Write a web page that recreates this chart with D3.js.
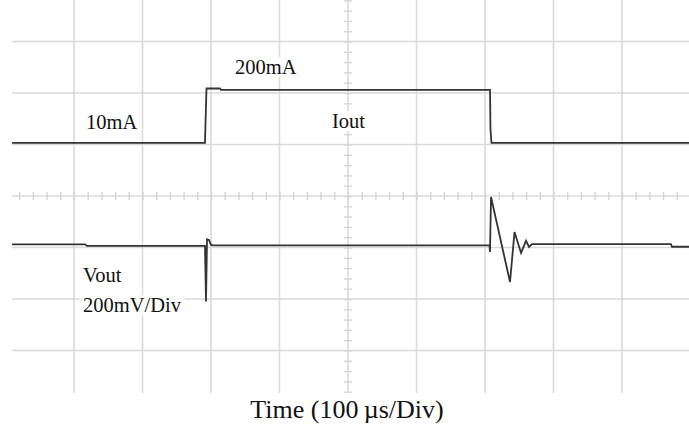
<!DOCTYPE html>
<html>
<head>
<meta charset="utf-8">
<script src="https://cdn.jsdelivr.net/npm/d3@7"></script>
<style>
  body { margin: 0; background: #fff; }
  text { font-family: "Liberation Serif", "Times New Roman", serif; fill: #111; }
</style>
</head>
<body>
<div id="chart"></div>
<script>
// time in us (100 us / div), 0 = left edge of the graticule
var iout_t = [9.5, 291.2, 293.4, 313.1, 314.6, 707.3, 708.0, 709.5, 997.8]
var iout_mA = [10, 10, 205, 205, 200, 200, 57, 10, 10]

var vout_t = [9.5, 116.1, 119.0, 291.2, 292.7, 294.2, 297.1, 300.0, 302.9,
  706.6, 707.3, 708.8, 736.5, 743.1, 752.6, 759.9, 764.2, 768.6, 971.5, 973.0, 997.8]
var vout_mV = [2, 2, -4, -4, -220, 22, 19, 0, -2,
  -2, -27, 186, -144, 50, -31, 16, -8, 3, 3, -7, -7]

var labels = [
  { text: "10mA", x: 86, y: 129 },
  { text: "200mA", x: 235, y: 74 },
  { text: "Iout", x: 332, y: 128 },
  { text: "Vout", x: 83, y: 282 },
  { text: "200mV/Div", x: 83, y: 312 }
]
var xTitle = "Time (100\u2009\u00b5s/Div)"

var width = 689, height = 425
var svg = d3.select("#chart").append("svg")
  .attr("width", width)
  .attr("height", height)
  .style("display", "block")

// graticule: 10 x 8 divisions
var x = d3.scaleLinear().domain([0, 1000]).range([5.5, 690.5])
var y = d3.scaleLinear().domain([-4, 4]).range([402, -10])
var plotL = 12, plotR = 689, plotT = 0, plotB = 393

svg.append("clipPath").attr("id", "plot")
  .append("rect")
  .attr("x", plotL).attr("y", plotT)
  .attr("width", plotR - plotL).attr("height", plotB - plotT)

var g = svg.append("g").attr("clip-path", "url(#plot)")

g.selectAll(".vgrid")
  .data(d3.range(100, 1000, 100))
  .enter().append("line")
  .attr("class", "vgrid")
  .attr("x1", d => x(d)).attr("x2", d => x(d))
  .attr("y1", plotT).attr("y2", plotB)
  .attr("stroke", "#dadada").attr("stroke-width", 1.6)

g.selectAll(".hgrid")
  .data(d3.range(-3, 4, 1))
  .enter().append("line")
  .attr("class", "hgrid")
  .attr("x1", plotL).attr("x2", plotR)
  .attr("y1", d => y(d)).attr("y2", d => y(d))
  .attr("stroke", "#dadada").attr("stroke-width", 1.6)

// minor ticks on the centre lines
var xTicks = d3.axisBottom(x).tickValues(d3.range(0, 1001, 20)).tickSize(8).tickFormat("")
g.append("g").attr("transform", "translate(0," + (y(0) - 4) + ")").call(xTicks)
var yTicks = d3.axisLeft(y).tickValues(d3.range(-4, 4.01, 0.2)).tickSize(8).tickFormat("")
g.append("g").attr("transform", "translate(" + (x(500) + 4) + ",0)").call(yTicks)
g.selectAll(".domain").remove()
g.selectAll(".tick line").attr("stroke", "#d6d6d6").attr("stroke-width", 1.4)

// traces
var yI = d3.scaleLinear().domain([10, 200]).range([y(1.03), y(2.06)])
var yV = d3.scaleLinear().domain([0, 200]).range([y(-0.95), y(0.05)])

var iLine = d3.line().x((d, i) => x(iout_t[i])).y(d => yI(d))
var vLine = d3.line().x((d, i) => x(vout_t[i])).y(d => yV(d))

g.append("path").datum(iout_mA)
  .attr("d", iLine)
  .attr("fill", "none").attr("stroke", "#333").attr("stroke-width", 1.8)

g.append("path").datum(vout_mV)
  .attr("d", vLine)
  .attr("fill", "none").attr("stroke", "#333").attr("stroke-width", 1.8)

// labels with white boxes behind them
var lab = svg.selectAll(".lab")
  .data(labels)
  .enter().append("g").attr("class", "lab")

lab.append("text")
  .attr("x", d => d.x).attr("y", d => d.y)
  .style("font-size", "20.5px")
  .text(d => d.text)

lab.each(function() {
  var t = d3.select(this).select("text")
  var b = t.node().getBBox()
  d3.select(this).insert("rect", "text")
    .attr("x", b.x - 3).attr("y", b.y + 1)
    .attr("width", b.width + 6).attr("height", b.height - 2)
    .attr("fill", "#fff")
})

svg.append("rect")
  .attr("x", 0).attr("y", plotB).attr("width", width).attr("height", height - plotB)
  .attr("fill", "#fff")

svg.append("text")
  .attr("x", 347).attr("y", 418)
  .attr("text-anchor", "middle")
  .style("font-size", "26px")
  .text(xTitle)
</script>
</body>
</html>
